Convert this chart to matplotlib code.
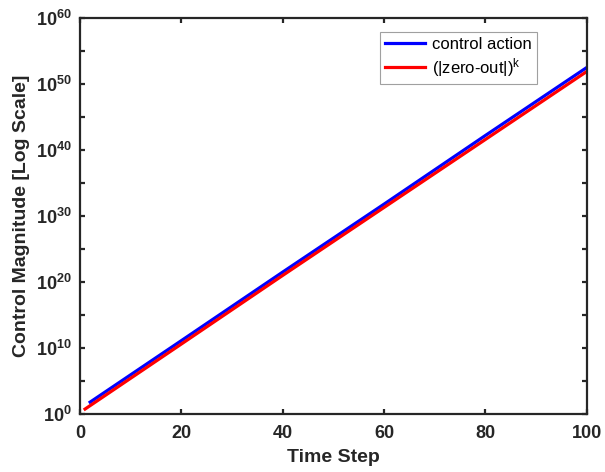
import numpy as np
import matplotlib
matplotlib.use("Agg")
import matplotlib.pyplot as plt
from matplotlib.ticker import FixedLocator, FuncFormatter

plt.rcParams['font.family'] = ['Liberation Sans', 'DejaVu Sans']
plt.rcParams['mathtext.fontset'] = 'custom'
plt.rcParams['mathtext.rm'] = 'Liberation Sans'
plt.rcParams['mathtext.it'] = 'Liberation Sans'
plt.rcParams['mathtext.bf'] = 'Liberation Sans:bold'

# control action magnitude vs time step
control_steps = [2, 20, 40, 60, 80, 100]
control_vals = [6.3e1, 1.3e11, 3.2e21, 6.3e31, 1.6e42, 3.2e52]

# (|zero-out|)^k reference curve
zero_steps = [1, 20, 40, 60, 80, 100]
zero_vals = [5.6e0, 4.0e10, 1.0e21, 2.0e31, 4.0e41, 8.0e51]

dark = '#262626'

fig = plt.figure(figsize=(6.05, 4.72), dpi=100)
ax = fig.add_axes([0.1322, 0.1229, 0.8378, 0.839])

ax.plot(control_steps, control_vals, color='#0000ff', lw=2.3, label='control action')
ax.plot(zero_steps, zero_vals, color='#ff0000', lw=2.3, label='(|zero-out|)$^k$')

ax.set_yscale('log')
ax.set_xlim(0, 100)
ax.set_ylim(1e0, 1e60)

ax.set_xticks([0, 20, 40, 60, 80, 100])
ax.yaxis.set_major_locator(FixedLocator([10.0**e for e in range(0, 61, 5)]))
ax.yaxis.set_minor_locator(FixedLocator([]))


def fmt_y(v, pos):
    e = int(round(np.log10(v)))
    if e % 10:
        return ''
    return r'$\mathbf{10^{%d}}$' % e


ax.yaxis.set_major_formatter(FuncFormatter(fmt_y))

for s in ax.spines.values():
    s.set_linewidth(1.6)
    s.set_color(dark)

ax.tick_params(which='both', direction='in', top=True, right=True,
               length=3.5, width=1.6, colors=dark, labelsize=13)
ax.tick_params(axis='x', pad=8)
ax.tick_params(axis='y', pad=6)
for lbl in ax.get_xticklabels():
    lbl.set_fontweight('bold')

ax.set_xlabel('Time Step', fontsize=14, fontweight='bold', color=dark, labelpad=5)
ax.set_ylabel('Control Magnitude [Log Scale]', fontsize=14, fontweight='bold',
              color=dark, labelpad=4)

leg = ax.legend(loc='upper right', bbox_to_anchor=(0.901, 0.965), fontsize=12,
                fancybox=False, edgecolor='#a0a0a0', framealpha=1,
                handlelength=2.4, borderpad=0.3, labelspacing=0.25,
                handletextpad=0.4, borderaxespad=0)
leg.get_frame().set_linewidth(0.8)

fig.savefig('out.png', dpi=100)
